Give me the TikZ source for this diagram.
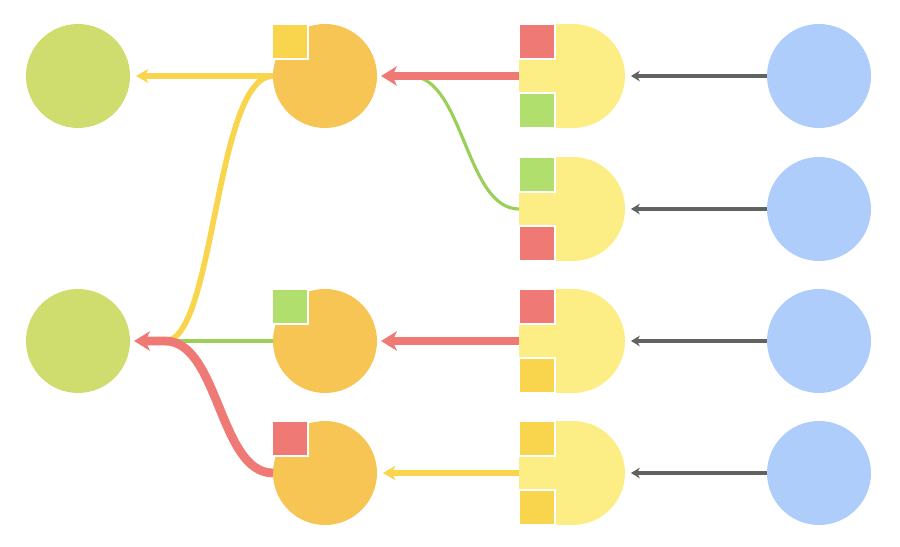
\documentclass[tikz,border=0pt]{standalone}
\usetikzlibrary{arrows.meta}
\definecolor{leafGreen}{HTML}{CFDC6E}
\definecolor{warmOrange}{HTML}{F6C553}
\definecolor{paleYellow}{HTML}{FDED85}
\definecolor{skyBlue}{HTML}{AECDFA}
\definecolor{sqRed}{HTML}{EF7975}
\definecolor{sqGreen}{HTML}{B0DF6E}
\definecolor{sqYellow}{HTML}{F8D54D}
\definecolor{lineGreen}{HTML}{9CCF58}
\definecolor{lineGray}{HTML}{616361}
\begin{document}
\begin{tikzpicture}
[x=0.02cm,y=-0.02cm,
  circleDecorate/.style={shape=circle,inner sep=0pt,outer sep=0pt,minimum size=2.08cm},
  boxDecorate/.style={shape=rectangle,inner sep=0pt,outer sep=0pt,minimum width=1.08cm,minimum height=2.08cm,fill=paleYellow},
  squareDecorate/.style={shape=rectangle,inner sep=0pt,outer sep=0pt,minimum size=0.71cm,draw=white,line width=1pt},
  grayArrow/.style={draw=lineGray,line width=2pt,-{Stealth[length=5pt,width=6pt,inset=1.5pt]},shorten >=3.4pt},
  yellowArrow/.style={draw=sqYellow,line width=3.2pt,-{Stealth[length=7pt,width=8pt,inset=2pt]},shorten >=3.4pt},
  redArrow/.style={draw=sqRed,line width=5pt,-{Stealth[length=9pt,width=11pt,inset=2.5pt]},shorten >=2.3pt},
  yellowLine/.style={draw=sqYellow,line width=3.2pt},
  greenLine/.style={draw=lineGreen,line width=1.8pt}]
\useasboundingbox (0,0) rectangle (900,547);
%% nodes or vertices
\foreach \nodename/\y in {1/76, 2/341}
{
  \node (grn\nodename) at (78,\y) [circleDecorate,fill=leafGreen] {};
}
\foreach \nodename/\y/\upper/\lower in {
  1/76/sqRed/sqGreen, 2/209/sqGreen/sqRed,
  3/341/sqRed/sqYellow, 4/473/sqYellow/sqYellow}
{
  \node (blu\nodename) at (819,\y) [circleDecorate,fill=skyBlue] {};
  \node (box\nodename) at (546,\y) [boxDecorate] {};
  \node (yel\nodename) at (573,\y) [circleDecorate,fill=paleYellow] {};
  \node (ysqa\nodename) at (537,\y-34.5) [squareDecorate,fill=\upper] {};
  \node (ysqb\nodename) at (537,\y+34.5) [squareDecorate,fill=\lower] {};
}
\foreach \nodename/\y/\corner in {1/76/sqYellow, 3/341/sqGreen, 4/473/sqRed}
{
  \node (org\nodename) at (325,\y) [circleDecorate,fill=warmOrange] {};
  \node (osq\nodename) at (290,\y-34.5) [squareDecorate,fill=\corner] {};
}
\coordinate (j1) at (410,76);
\coordinate (j2) at (165,341);
%% edges or lines
\foreach \nodename in {1,2,3,4}
{
  \draw[grayArrow] (blu\nodename) -- (yel\nodename);
}
\draw[greenLine] (box2.west) .. controls +(-54,0) and +(54,0) .. (j1);
\draw[redArrow] (box1.west) -- (org1.east);
\draw[yellowLine] (org1.west) .. controls +(-58,0) and +(50,0) .. (j2);
\draw[yellowArrow] (org1.west) -- (grn1.east);
\draw[redArrow] (box3.west) -- (org3.east);
\draw[greenLine] (org3.west) -- (j2);
\draw[redArrow] (org4.west) .. controls +(-54,0) and +(54,0) .. (j2) -- (grn2.east);
\draw[yellowArrow] (box4.west) -- (org4.east);
\end{tikzpicture}
\end{document}
